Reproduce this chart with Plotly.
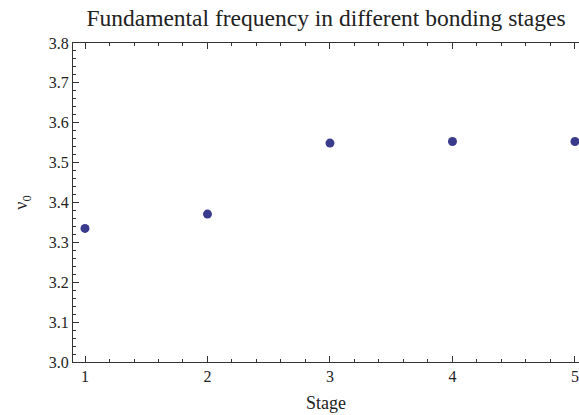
import plotly.graph_objects as go

stages = [1, 2, 3, 4, 5]
nu0 = [3.335, 3.371, 3.549, 3.553, 3.553]

title_text = "Fundamental frequency in different bonding stages"
x_label = "Stage"
y_label = "ν<sub>0</sub>"

FONT = "Liberation Serif"
INK = "#222222"

fig = go.Figure()
fig.add_trace(go.Scatter(
    x=stages, y=nu0, mode="markers",
    marker=dict(color="#3b3b8e", size=9),
    cliponaxis=False, showlegend=False,
))

axis_common = dict(
    showline=True, linecolor="#333333", linewidth=1,
    ticks="inside", ticklen=6, tickcolor="#333333", tickwidth=1,
    showgrid=False, zeroline=False,
    tickfont=dict(family=FONT, size=16, color=INK),
)

fig.update_layout(
    width=579, height=415,
    margin=dict(l=73, r=0, t=43, b=53),
    paper_bgcolor="white", plot_bgcolor="white",
    title=dict(text=title_text, x=0.5, xref="paper", y=0.957, yref="container",
               xanchor="center", yanchor="middle",
               font=dict(family=FONT, size=23.5, color=INK)),
    xaxis=dict(range=[0.902, 5.033], tickvals=[1, 2, 3, 4, 5], mirror="ticks",
               minor=dict(dtick=0.2, tick0=1, ticks="inside", ticklen=3, tickcolor="#333333"),
               title=dict(text=x_label, standoff=12,
                          font=dict(family=FONT, size=18, color=INK)),
               **axis_common),
    yaxis=dict(range=[3.0, 3.8], dtick=0.1, tickformat=".1f", mirror=False,
               minor=dict(dtick=0.02, ticks="inside", ticklen=3, tickcolor="#333333"),
               title=dict(text=y_label, standoff=16,
                          font=dict(family=FONT, size=18, color=INK)),
               **axis_common),
)

fig.write_html("out.html")
